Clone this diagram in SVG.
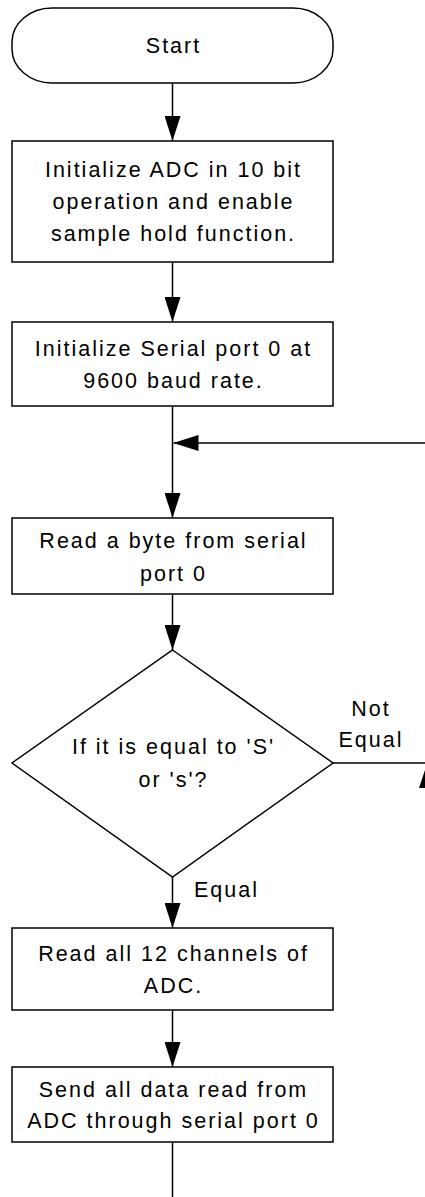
<svg xmlns="http://www.w3.org/2000/svg" width="425" height="1197" viewBox="0 0 425 1197">
<style>
.shape{fill:#fff;stroke:#000;stroke-width:1.5}
.conn{fill:none;stroke:#000;stroke-width:1.5}
text{font-family:"Liberation Sans",Arial,sans-serif;font-size:21.5px;letter-spacing:2px;fill:#000}
.c{text-anchor:middle}
</style>
<defs>
<marker id="arr" viewBox="0 0 25 16" refX="25" refY="8" markerWidth="25" markerHeight="16" markerUnits="userSpaceOnUse" orient="auto">
<path d="M0,0 L25,8 L0,16 z" fill="#000"/>
</marker>
</defs>
<g id="connectors">
<line class="conn" x1="172.5" y1="83" x2="172.5" y2="141" marker-end="url(#arr)"/>
<line class="conn" x1="172.5" y1="262" x2="172.5" y2="322" marker-end="url(#arr)"/>
<line class="conn" x1="172.5" y1="406" x2="172.5" y2="518" marker-end="url(#arr)"/>
<line class="conn" x1="430" y1="443" x2="173.5" y2="443" marker-end="url(#arr)"/>
<line class="conn" x1="172.5" y1="594" x2="172.5" y2="650" marker-end="url(#arr)"/>
<line class="conn" x1="172.5" y1="877" x2="172.5" y2="928" marker-end="url(#arr)"/>
<line class="conn" x1="172.5" y1="1010" x2="172.5" y2="1067" marker-end="url(#arr)"/>
<line class="conn" x1="172.5" y1="1142" x2="172.5" y2="1200"/>
<line class="conn" x1="333" y1="763" x2="430" y2="763"/>
<polygon points="419,788 427,764 435,788" fill="#000"/>
<text x="371" y="716" class="c">Not</text>
<text x="371" y="747" class="c">Equal</text>
<text x="194" y="897">Equal</text>
</g>
<g id="start">
<rect class="shape" x="12" y="8" width="321" height="75" rx="40" ry="34"/>
<text x="173.5" y="53" class="c">Start</text>
</g>
<g id="init-adc">
<rect class="shape" x="12" y="141" width="321" height="121"/>
<text x="173.5" y="177" class="c">Initialize ADC in 10 bit</text>
<text x="173.5" y="209" class="c">operation and enable</text>
<text x="173.5" y="241" class="c">sample hold function.</text>
</g>
<g id="init-serial">
<rect class="shape" x="12" y="322" width="321" height="84"/>
<text x="173.5" y="356" class="c">Initialize Serial port 0 at</text>
<text x="173.5" y="388" class="c">9600 baud rate.</text>
</g>
<g id="read-byte">
<rect class="shape" x="12" y="518" width="321" height="76"/>
<text x="173.5" y="548" class="c">Read a byte from serial</text>
<text x="173.5" y="581" class="c">port 0</text>
</g>
<g id="decision">
<polygon class="shape" points="172.5,650 333,763 172.5,877 12,763"/>
<text x="173.5" y="754" class="c">If it is equal to 'S'</text>
<text x="173.5" y="787" class="c">or 's'?</text>
</g>
<g id="read-channels">
<rect class="shape" x="12" y="928" width="321" height="82"/>
<text x="173.5" y="961" class="c">Read all 12 channels of</text>
<text x="173.5" y="993" class="c">ADC.</text>
</g>
<g id="send-data">
<rect class="shape" x="12" y="1067" width="321" height="75"/>
<text x="173.5" y="1097" class="c">Send all data read from</text>
<text x="173.5" y="1128" class="c">ADC through serial port 0</text>
</g>
</svg>
